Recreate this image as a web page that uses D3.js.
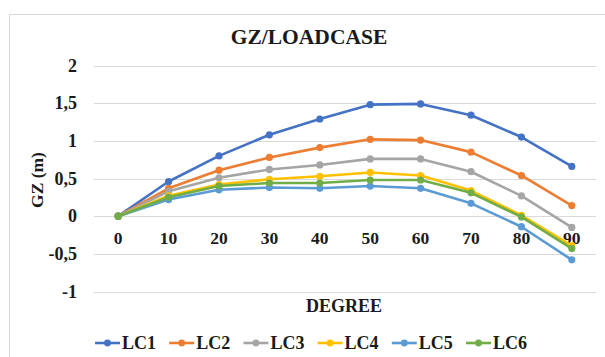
<!DOCTYPE html>
<html>
<head>
<meta charset="utf-8">
<script src="https://cdn.jsdelivr.net/npm/d3@7"></script>
<style>
  html, body { margin: 0; padding: 0; background: #fff; }
  svg { display: block; font-family: "Liberation Serif", "Times New Roman", serif; font-weight: bold; }
</style>
</head>
<body>
<svg id="chart" width="605" height="357"></svg>
<script>
// Heel angle categories (degrees)
const degrees = ["0", "10", "20", "30", "40", "50", "60", "70", "80", "90"];

// GZ righting lever (m) per load case
const lc1 = [0, 0.46, 0.80, 1.08, 1.29, 1.48, 1.49, 1.34, 1.05, 0.66];
const lc2 = [0, 0.37, 0.61, 0.78, 0.91, 1.02, 1.01, 0.85, 0.54, 0.14];
const lc3 = [0, 0.33, 0.51, 0.62, 0.68, 0.76, 0.76, 0.59, 0.27, -0.15];
const lc4 = [0, 0.27, 0.42, 0.49, 0.53, 0.58, 0.54, 0.34, 0.01, -0.39];
const lc5 = [0, 0.22, 0.35, 0.38, 0.37, 0.40, 0.37, 0.17, -0.14, -0.58];
const lc6 = [0, 0.25, 0.40, 0.44, 0.44, 0.48, 0.48, 0.31, -0.01, -0.43];

const seriesNames = ["LC1", "LC2", "LC3", "LC4", "LC5", "LC6"];
const seriesValues = [lc1, lc2, lc3, lc4, lc5, lc6];
const seriesColors = ["#4472C4", "#ED7D31", "#A5A5A5", "#FFC000", "#5B9BD5", "#70AD47"];

const yTicks = [2, 1.5, 1, 0.5, 0, -0.5, -1];
const yTickLabels = ["2", "1,5", "1", "0,5", "0", "-0,5", "-1"];

const svg = d3.select("#chart");

// chart frame
svg.append("rect")
  .attr("x", 9.5).attr("y", 14.5)
  .attr("width", 605).attr("height", 360)
  .attr("fill", "none").attr("stroke", "#d9d9d9").attr("stroke-width", 1);

const x = d3.scaleBand().domain(degrees).range([93, 597]);
const y = d3.scaleLinear().domain([-1, 2]).range([291.5, 65.5]);

// horizontal gridlines
svg.append("g").selectAll("line")
  .data(yTicks)
  .join("line")
  .attr("x1", 94).attr("x2", 596)
  .attr("y1", d => Math.round(y(d)) + 0.5)
  .attr("y2", d => Math.round(y(d)) + 0.5)
  .attr("stroke", "#d9d9d9").attr("stroke-width", 1.2);

// y tick labels
svg.append("g").selectAll("text")
  .data(yTicks)
  .join("text")
  .attr("x", 77)
  .attr("y", d => y(d))
  .attr("dy", "0.35em")
  .attr("text-anchor", "end")
  .attr("font-size", 18)
  .attr("fill", "#1a1a1a")
  .text((d, i) => yTickLabels[i]);

// x tick labels, sitting just under the zero line
svg.append("g").selectAll("text")
  .data(degrees)
  .join("text")
  .attr("x", d => x(d) + x.bandwidth() / 2)
  .attr("y", y(0) + 28)
  .attr("text-anchor", "middle")
  .attr("font-size", 17.5)
  .attr("fill", "#1a1a1a")
  .text(d => d);

// title
svg.append("text")
  .attr("x", 309).attr("y", 44)
  .attr("text-anchor", "middle")
  .attr("font-size", 21.5)
  .attr("fill", "#1a1a1a")
  .text("GZ/LOADCASE");

// axis titles
svg.append("text")
  .attr("transform", "translate(43,180) rotate(-90)")
  .attr("text-anchor", "middle")
  .attr("font-size", 17.5)
  .attr("fill", "#1a1a1a")
  .text("GZ (m)");

svg.append("text")
  .attr("x", 344).attr("y", 311.5)
  .attr("text-anchor", "middle")
  .attr("font-size", 18)
  .attr("fill", "#1a1a1a")
  .text("DEGREE");

// series lines and markers
const line = d3.line()
  .x((d, i) => x(degrees[i]) + x.bandwidth() / 2)
  .y(d => y(d));

const series = svg.append("g").selectAll("g")
  .data(seriesValues)
  .join("g");

series.append("path")
  .attr("d", d => line(d))
  .attr("fill", "none")
  .attr("stroke", (d, i) => seriesColors[i])
  .attr("stroke-width", 2.6)
  .attr("stroke-linejoin", "round");

series.each(function(vals, si) {
  d3.select(this).selectAll("circle")
    .data(vals)
    .join("circle")
    .attr("cx", (d, i) => x(degrees[i]) + x.bandwidth() / 2)
    .attr("cy", d => y(d))
    .attr("r", 3.6)
    .attr("fill", seriesColors[si]);
});

// legend
const legend = svg.append("g").selectAll("g")
  .data(seriesNames)
  .join("g")
  .attr("transform", (d, i) => `translate(${95 + i * 74.2},343)`);

legend.append("line")
  .attr("x1", 0).attr("x2", 25)
  .attr("y1", 0).attr("y2", 0)
  .attr("stroke", (d, i) => seriesColors[i])
  .attr("stroke-width", 2.6);

legend.append("circle")
  .attr("cx", 12.5).attr("cy", 0).attr("r", 3.4)
  .attr("fill", (d, i) => seriesColors[i]);

legend.append("text")
  .attr("x", 27).attr("y", 0).attr("dy", "0.35em")
  .attr("font-size", 18)
  .attr("fill", "#1a1a1a")
  .text(d => d);
</script>
</body>
</html>
